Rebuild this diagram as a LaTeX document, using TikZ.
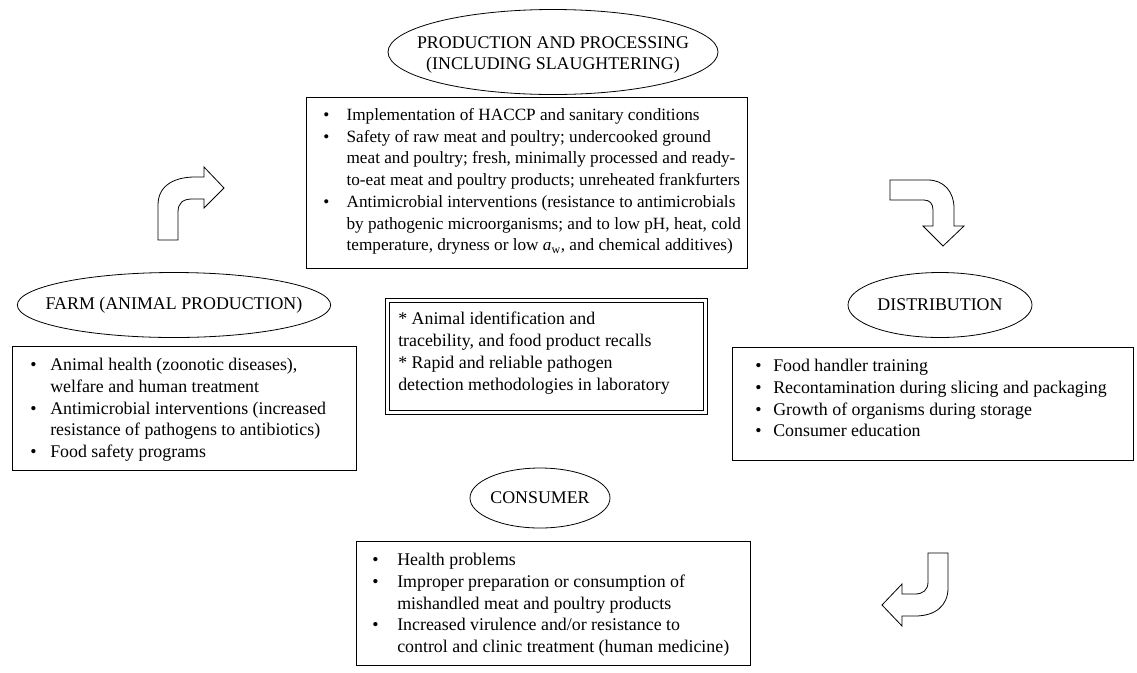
\documentclass[tikz,border=0pt]{standalone}
\usepackage{fontspec}
\setmainfont{Liberation Serif}
\usetikzlibrary{shapes.geometric}
\newlength\bulw
\newcommand\bl{\makebox[\bulw][l]{\textbullet}}
\newcommand\ind{\hspace*{\bulw}}
\begin{document}
\begin{tikzpicture}[x=0.75pt,y=-0.75pt,
  every node/.style={font=\fontsize{13.4}{16.3}\selectfont},
  stage/.style={ellipse,draw,line width=0.6pt,inner sep=0pt},
  label/.style={align=center,inner sep=0pt},
  listbox/.style={draw,line width=0.6pt,anchor=north west,inner sep=0pt},
  listtext/.style={anchor=north west,align=left,inner sep=0pt},
  keybox/.style={draw,line width=0.8pt,double,double distance=1.6pt,anchor=north west,inner sep=0pt},
  blockarrow/.style={draw,line width=0.6pt,fill=white,line join=miter}]
\useasboundingbox (0,0) rectangle (1137,672);

% stages
\node[stage,minimum width=247.5pt,minimum height=63.75pt] (prod) at (553,52) {};
\node[label] (prodlabel) at (553,55) {PRODUCTION AND PROCESSING\\(INCLUDING SLAUGHTERING)};
\node[stage,minimum width=235pt,minimum height=48.75pt] (farm) at (174,305) {};
\node[label] (farmlabel) at (farm.center) {FARM (ANIMAL PRODUCTION)};
\node[stage,minimum width=138pt,minimum height=48.75pt] (dist) at (940,305) {};
\node[label] (distlabel) at (dist.center) {DISTRIBUTION};
\node[stage,minimum width=105pt,minimum height=45pt] (cons) at (540,498) {};
\node[label] (conslabel) at (cons.center) {CONSUMER};

% boxes
\node[listbox,minimum width=330.75pt,minimum height=128.25pt] (prodbox) at (306,97) {};
\node[listtext,font=\fontsize{12.9}{16.3}\selectfont,execute at begin node={\global\bulw=17.5pt\relax}] (prodtext) at ([shift={(17,11)}]prodbox.north west) {%
\bl Implementation of HACCP and sanitary conditions\\
\bl Safety of raw meat and poultry; undercooked ground\\
\ind meat and poultry; fresh, minimally processed and ready-\\
\ind to-eat meat and poultry products; unreheated frankfurters\\
\bl Antimicrobial interventions (resistance to antimicrobials\\
\ind by pathogenic microorganisms; and to low pH, heat, cold\\
\ind temperature, dryness or low \textit{a}\textsubscript{w}, and chemical additives)};

\node[listbox,minimum width=258pt,minimum height=93pt] (farmbox) at (12,346) {};
\node[listtext,execute at begin node={\global\bulw=15pt\relax}] (farmtext) at ([shift={(18,12)}]farmbox.north west) {%
\bl Animal health (zoonotic diseases),\\
\ind welfare and human treatment\\
\bl Antimicrobial interventions (increased\\
\ind resistance of pathogens to antibiotics)\\
\bl Food safety programs};

\node[listbox,minimum width=300.75pt,minimum height=84.75pt] (distbox) at (732,347) {};
\node[listtext,execute at begin node={\global\bulw=13.5pt\relax}] (disttext) at ([shift={(23,12)}]distbox.north west) {%
\bl Food handler training\\
\bl Recontamination during slicing and packaging\\
\bl Growth of organisms during storage\\
\bl Consumer education};

\node[listbox,minimum width=295.5pt,minimum height=93pt] (consbox) at (356,541) {};
\node[listtext,execute at begin node={\global\bulw=18.75pt\relax}] (constext) at ([shift={(16,12)}]consbox.north west) {%
\bl Health problems\\
\bl Improper preparation or consumption of\\
\ind mishandled meat and poultry products\\
\bl Increased virulence and/or resistance to\\
\ind control and clinic treatment (human medicine)};

\node[keybox,minimum width=238.5pt,minimum height=84pt] (key) at (387,300) {};
\node[listtext] (keytext) at ([shift={(11,12)}]key.north west) {%
* Animal identification and\\
tracebility, and food product recalls\\
* Rapid and reliable pathogen\\
detection methodologies in laboratory};

% block arrows
\draw[blockarrow] (158,240) -- (158,205) .. controls (158,185) and (175,177) .. (195,177)
  -- (204,177) -- (204,167) -- (224,188) -- (204,208) -- (204,199) -- (192,199)
  .. controls (183,199) and (178,203) .. (178,212) -- (178,240) -- cycle;
\draw[blockarrow] (890,180) -- (928,180) .. controls (944,180) and (954,192) .. (954,208)
  -- (954,226) -- (964,226) -- (943,246) -- (923,226) -- (933,226) -- (933,210)
  .. controls (933,204) and (930,200) .. (924,200) -- (890,200) -- cycle;
\draw[blockarrow] (928,553) -- (948,553) -- (948,588) .. controls (948,606) and (935,616) .. (915,616)
  -- (902,616) -- (902,626) -- (882,605) -- (902,584) -- (902,594) -- (915,594)
  .. controls (923,594) and (928,590) .. (928,582) -- cycle;
\end{tikzpicture}
\end{document}
